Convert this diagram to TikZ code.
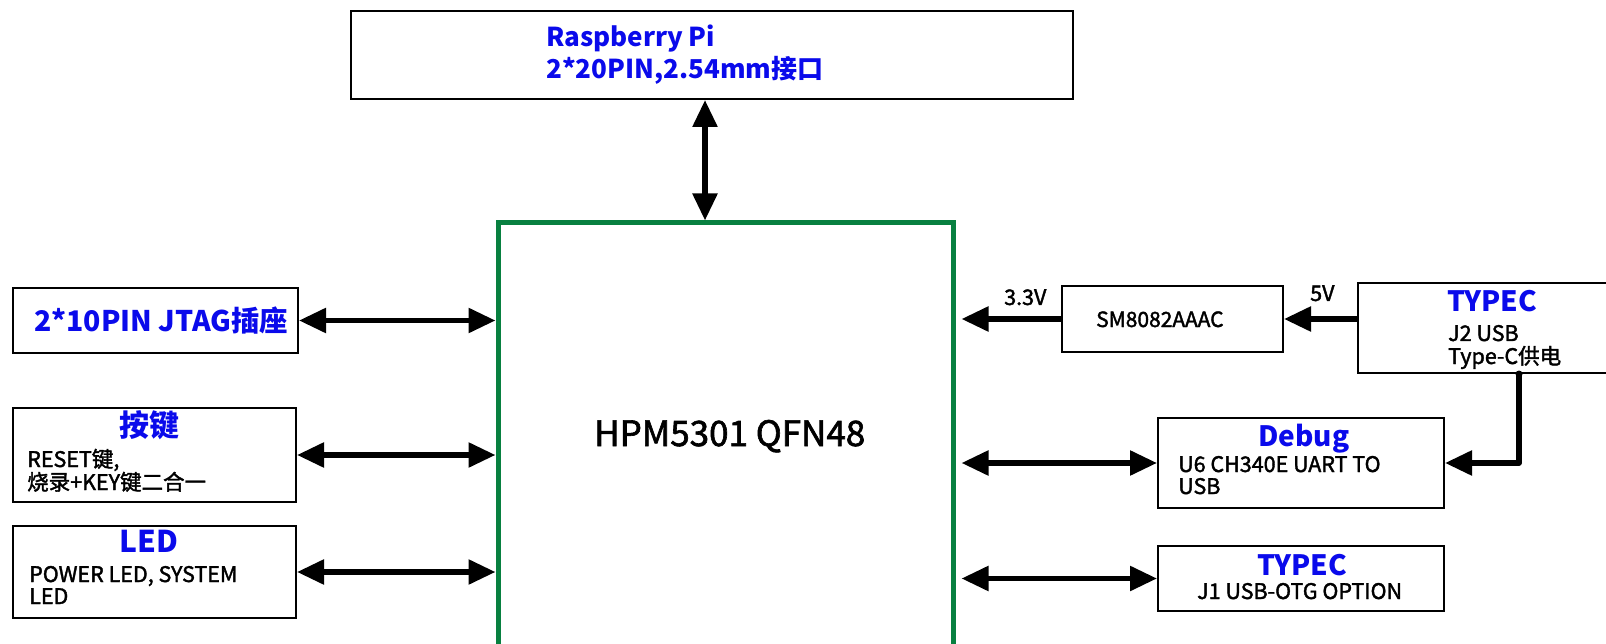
\documentclass[tikz,border=0pt]{standalone}
\usepackage{fontspec}
\setmainfont{Noto Sans CJK SC}
\newfontfamily\medfont{Noto Sans CJK SC}[FakeBold=1.8]
\usetikzlibrary{arrows.meta,calc}
\definecolor{tblue}{RGB}{10,10,235}
\definecolor{mgreen}{RGB}{8,128,64}
\begin{document}
\begin{tikzpicture}[x=1pt,y=-1pt,
 box/.style={draw=black,line width=2pt,fill=white,inner sep=0pt},
 arr/.style={line width=5.5pt,-{Triangle[length=27pt,width=24pt]}},
 darr/.style={line width=5.5pt,{Triangle[length=27pt,width=24pt]}-{Triangle[length=27pt,width=24pt]}},
 ttl/.style={text=tblue,font=\bfseries\fontsize{28}{32}\selectfont,anchor=base west,inner sep=0pt},
 txt/.style={font=\medfont\fontsize{21.5}{24}\selectfont,anchor=base west,inner sep=0pt},
]
\useasboundingbox (0,0) rectangle (1606,644);
\clip (0,0) rectangle (1606,644);
\fill[white] (0,0) rectangle (1606,644);

% boxes
\node[box,minimum width=722pt,minimum height=88pt] (rpi) at (712,55) {};
\node[draw=mgreen,line width=5pt,fill=white,minimum width=455pt,minimum height=600pt,inner sep=0pt] (mcu) at (725.5,523) {};
\node[box,minimum width=285pt,minimum height=65pt] (jtag) at (155.5,320.5) {};
\node[box,minimum width=283pt,minimum height=94pt] (key) at (154.5,455) {};
\node[box,minimum width=283pt,minimum height=92pt] (led) at (154.5,572) {};
\node[box,minimum width=221pt,minimum height=66pt] (ldo) at (1172.5,319) {};
\node[box,minimum width=270pt,minimum height=90pt] (tc2) at (1493,328) {};
\node[box,minimum width=286pt,minimum height=90pt] (dbg) at (1301,463) {};
\node[box,minimum width=286pt,minimum height=65pt] (tc1) at (1301,578.5) {};

% texts
\node[ttl,font=\bfseries\fontsize{26}{30}\selectfont] (rpit1) at (546,47) {Raspberry Pi};
\node[ttl,font=\bfseries\fontsize{26}{30}\selectfont] (rpit2) at (546,79) {2*20PIN,2.54mm接口};
\node[ttl,font=\bfseries\fontsize{28.4}{32}\selectfont] (jtagt) at (34,331) {2*10PIN JTAG插座};
\node[ttl,anchor=base,font=\bfseries\fontsize{30}{34}\selectfont] (keyt) at (149,436) {按键};
\node[ttl,anchor=base,font=\bfseries\fontsize{30}{34}\selectfont] (ledt) at (149,552) {LED};
\node[txt] (keyl1) at (27,467) {RESET键,};
\node[txt] (keyl2) at (27,490) {烧录+KEY键二合一};
\node[txt] (ledl1) at (29,582) {POWER LED, SYSTEM};
\node[txt] (ledl2) at (29,604) {LED};
\node[txt,font=\medfont\fontsize{35}{40}\selectfont] (mcut) at (594,446) {HPM5301 QFN48};
\node[txt] (v33) at (1004,305) {3.3V};
\node[txt,font=\medfont\fontsize{21}{24}\selectfont] (ldot) at (1096,327) {SM8082AAAC};
\node[txt] (v5) at (1310,301) {5V};
\node[ttl] (tc2t) at (1447,312) {TYPEC};
\node[txt] (tc2l1) at (1448,341) {J2 USB};
\node[txt] (tc2l2) at (1448,364) {Type-C供电};
\node[ttl] (dbgt) at (1258,446) {Debug};
\node[txt] (dbgl1) at (1178,472) {U6 CH340E UART TO};
\node[txt] (dbgl2) at (1178,494) {USB};
\node[ttl] (tc1t) at (1257,575) {TYPEC};
\node[txt] (tc1l) at (1197,599) {J1 USB-OTG OPTION};

% connectors
\coordinate (rpib) at ($(rpi.south)+(-7,0)$);
\draw[darr] (rpib) -- (mcu.north -| rpib);
\draw[darr] (jtag.east) -- (mcu.west |- jtag.east);
\draw[darr] (key.east) -- (mcu.west |- key.east);
\draw[darr] (led.east) -- (mcu.west |- led.east);
\draw[arr] (ldo.west) -- ($(mcu.east |- ldo.west)+(6,0)$);
\draw[arr] (tc2.west |- ldo.east) -- (ldo.east);
\coordinate (tcd) at ($(tc2.south west)+(162,0)$);
\fill (tcd) circle (3.5pt);
\draw[arr,line join=round] (tcd) |- (dbg.east);
\draw[darr] ($(mcu.east |- dbg.west)+(6,0)$) -- (dbg.west);
\draw[darr] ($(mcu.east |- tc1.west)+(6,0)$) -- (tc1.west);
\end{tikzpicture}
\end{document}
